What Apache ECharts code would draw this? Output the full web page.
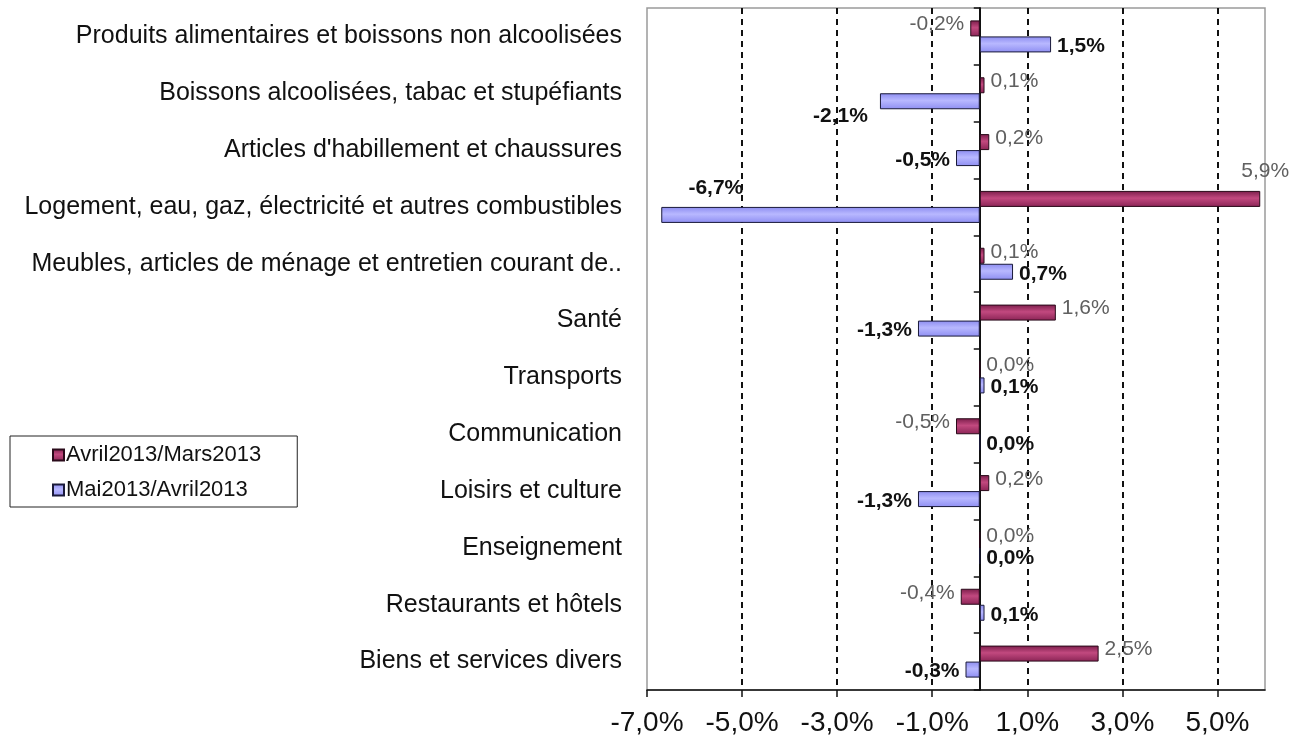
<!DOCTYPE html>
<html>
<head>
<meta charset="utf-8">
<script src="https://cdn.jsdelivr.net/npm/echarts@6/dist/echarts.min.js"></script>
<style>
html, body { margin: 0; padding: 0; background: #fff; }
#chart { width: 1306px; height: 747px; }
</style>
</head>
<body>
<div id="chart"></div>
<script>
var categories = [
    "Produits alimentaires et boissons non alcoolisées",
    "Boissons alcoolisées, tabac et stupéfiants",
    "Articles d'habillement et chaussures",
    "Logement, eau, gaz, électricité et autres combustibles",
    "Meubles, articles de ménage et entretien courant de..",
    "Santé",
    "Transports",
    "Communication",
    "Loisirs et culture",
    "Enseignement",
    "Restaurants et hôtels",
    "Biens et services divers"
];
var seriesNames = ["Avril2013/Mars2013", "Mai2013/Avril2013"];
var avrilMars = [-0.2, 0.1, 0.2, 5.9, 0.1, 1.6, 0.0, -0.5, 0.2, 0.0, -0.4, 2.5];
var maiAvril = [1.5, -2.1, -0.5, -6.7, 0.7, -1.3, 0.1, 0.0, -1.3, 0.0, 0.1, -0.3];
var xTicks = [-7, -5, -3, -1, 1, 3, 5];

var FONT = "Liberation Sans, Arial, sans-serif";

function pct(v) {
    return v.toFixed(1).replace(".", ",") + "%";
}

// labels that Excel moved by hand
var labelMoves = {
    0: { 3: [-25, -28] },
    1: { 1: [-6, 15], 3: [88, -27] }
};

function make_data(values, idx, dy) {
    var out = [];
    for (var i = 0; i < values.length; i++) {
        var v = values[i];
        var off = (labelMoves[idx] && labelMoves[idx][i]) || [0, dy];
        out.push({
            value: v,
            label: { position: v < 0 ? "left" : "right", offset: off }
        });
    }
    return out;
}

var redFill = new echarts.graphic.LinearGradient(0, 0, 0, 1, [
    { offset: 0, color: "#7a1d4a" },
    { offset: 0.45, color: "#c2497f" },
    { offset: 1, color: "#8a2455" }
]);
var blueFill = new echarts.graphic.LinearGradient(0, 0, 0, 1, [
    { offset: 0, color: "#8c8cf0" },
    { offset: 0.45, color: "#b8b8ff" },
    { offset: 1, color: "#8e8ef2" }
]);

var chart = echarts.init(document.getElementById("chart"));
var option = {
    animation: false,
    textStyle: { fontFamily: FONT },
    grid: {
        left: 647,
        right: 41,
        top: 8,
        bottom: 57,
        show: true,
        borderColor: "#9a9a9a",
        borderWidth: 1.5
    },
    legend: {
        orient: "vertical",
        left: 10,
        top: 436,
        padding: [8, 36, 6, 42],
        itemGap: 13,
        itemWidth: 11,
        itemHeight: 11,
        borderColor: "#222",
        borderWidth: 1,
        icon: "rect",
        textStyle: { fontSize: 22, color: "#111", fontFamily: FONT, padding: [0, 0, 0, -3] },
        data: seriesNames
    },
    xAxis: {
        type: "value",
        min: -7,
        max: 6,
        interval: 2,
        axisLine: { show: true, onZero: false, lineStyle: { color: "#111", width: 1.5 } },
        axisTick: { show: true, length: 7, customValues: xTicks, lineStyle: { color: "#111", width: 1.5 } },
        axisLabel: {
            customValues: xTicks,
            fontSize: 28,
            color: "#111",
            margin: 19,
            formatter: function (v) { return pct(v); }
        },
        splitLine: {
            show: true,
            showMinLine: false,
            lineStyle: { color: "#111", type: [6, 5], width: 2 }
        }
    },
    yAxis: [
        {
            type: "category",
            inverse: true,
            data: categories,
            axisLine: { show: true, onZero: true, lineStyle: { color: "#111", width: 2 } },
            axisTick: { show: true, length: 6, lineStyle: { color: "#111", width: 1.5 } },
            axisLabel: { show: false },
            splitLine: { show: false }
        },
        {
            type: "category",
            inverse: true,
            position: "left",
            data: categories,
            axisLine: { show: false, onZero: false },
            axisTick: { show: false },
            axisLabel: { fontSize: 25, color: "#111", margin: 25, fontFamily: FONT },
            splitLine: { show: false }
        }
    ],
    series: [
        {
            name: seriesNames[0],
            type: "bar",
            yAxisIndex: 0,
            barWidth: 16,
            barGap: "0%",
            data: make_data(avrilMars, 0, -4),
            itemStyle: { color: redFill, borderColor: "#2a0a1a", borderWidth: 1 },
            label: {
                show: true,
                distance: 6,
                fontSize: 21,
                color: "#606060",
                fontFamily: FONT,
                formatter: function (p) { return pct(p.value); }
            }
        },
        {
            name: seriesNames[1],
            type: "bar",
            yAxisIndex: 0,
            barWidth: 16,
            barGap: "0%",
            data: make_data(maiAvril, 1, 2),
            itemStyle: { color: blueFill, borderColor: "#1a1a3a", borderWidth: 1 },
            label: {
                show: true,
                distance: 6,
                fontSize: 21,
                fontWeight: "bold",
                color: "#111",
                fontFamily: FONT,
                formatter: function (p) { return pct(p.value); }
            }
        }
    ]
};
chart.setOption(option);
</script>
</body>
</html>
